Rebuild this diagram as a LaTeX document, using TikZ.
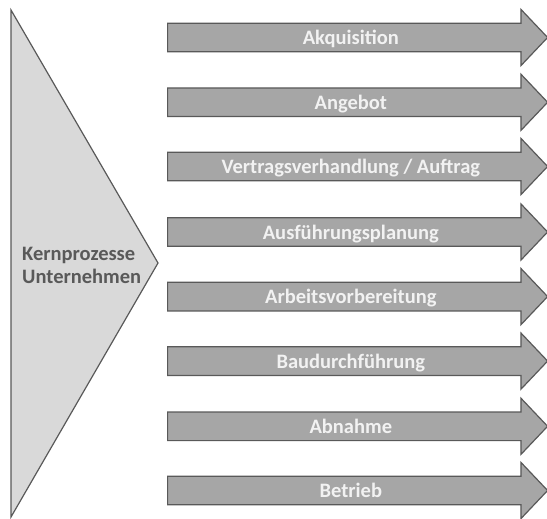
\documentclass[tikz,border=0pt]{standalone}
\usepackage{fontspec}
\setmainfont{Carlito}
\usetikzlibrary{positioning,shapes.arrows}
\definecolor{softgray}{RGB}{217,217,217}
\definecolor{midgray}{RGB}{166,166,166}
\definecolor{darkgray}{RGB}{89,89,89}
\definecolor{paleword}{RGB}{242,242,242}

\begin{document}
\begin{tikzpicture}[x=1pt,y=-1pt,
  phase/.style={single arrow,draw=darkgray,fill=midgray,line width=1.2pt,
    single arrow head extend=13.75pt,single arrow tip angle=93,
    minimum height=380pt,text height=16pt,text depth=2pt,inner ysep=4.7pt,
    text=paleword,font=\fontsize{20.5}{24}\selectfont\bfseries,anchor=tail}]
\useasboundingbox (0,0) rectangle (547,519);
% Kernprozesse
\coordinate (top) at (11,10);
\coordinate (bot) at (11,517);
\coordinate (apex) at (158,263);
\draw[darkgray,fill=softgray,line width=1.2pt] (top) -- (apex) -- (bot) -- cycle;
\node[text=darkgray,font=\fontsize{20.5}{23}\selectfont\bfseries,align=left,anchor=west,inner sep=0pt] (kern) at (22,265) {Kernprozesse\\Unternehmen};

% Phasen
\node[phase] (akq) at (167,37.5) {Akquisition};
\node[phase] (ang) at (167,102.3) {Angebot};
\node[phase] (vertrag) at (167,166.5) {Vertragsverhandlung / Auftrag};
\node[phase] (ausf) at (167,232) {Ausführungsplanung};
\node[phase] (arbeit) at (167,296.6) {Arbeitsvorbereitung};
\node[phase] (bau) at (167,361.1) {Baudurchführung};
\node[phase] (abn) at (167,426.3) {Abnahme};
\node[phase] (betr) at (167,490.5) {Betrieb};
\end{tikzpicture}
\end{document}
